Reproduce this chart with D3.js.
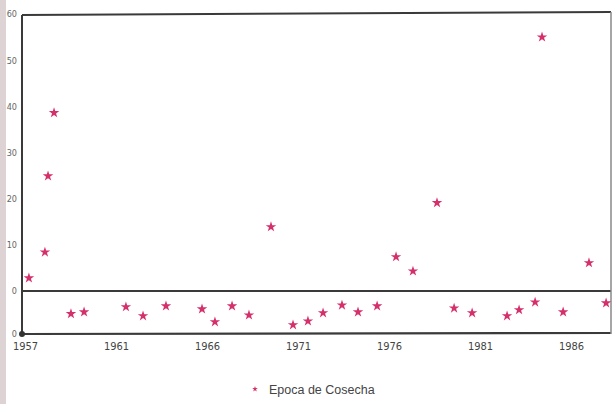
<!DOCTYPE html>
<html>
<head>
<meta charset="utf-8">
<script src="https://cdn.jsdelivr.net/npm/d3@7"></script>
<style>
  body { margin: 0; background: #fff; }
  svg { display: block; }
</style>
</head>
<body>
<div id="chart"></div>
<script>
// Harvest season values.
// Dates are fractional years; negative values fall in the lower band.
var years = [1956.38, 1957.26, 1957.43, 1957.76, 1958.69, 1959.41, 1961.71, 1962.65,
  1963.91, 1965.89, 1966.60, 1967.54, 1968.47, 1969.68, 1970.89, 1971.71,
  1972.54, 1973.58, 1974.46, 1975.51, 1976.55, 1977.48, 1978.80, 1979.74,
  1980.73, 1982.65, 1983.31, 1984.19, 1984.57, 1985.73, 1987.15, 1988.09];
var values = [2.8, 8.4, 24.9, 38.6, -5.3, -4.9, -3.7, -5.8,
  -3.5, -4.2, -7.2, -3.5, -5.6, 13.9, -7.9, -7.0,
  -5.1, -3.3, -4.9, -3.5, 7.4, 4.3, 19.1, -4.0,
  -5.1, -5.8, -4.4, -2.6, 55.0, -4.9, 6.1, -2.8];

var xTicks = [1956, 1961, 1966, 1971, 1976, 1981, 1986];
var xTickLabels = ["1957", "1961", "1966", "1971", "1976", "1981", "1986"];
var yTicks = [-10, 0, 10, 20, 30, 40, 50, 60];
var yTickLabels = ["0", "0", "10", "20", "30", "40", "50", "60"];
var legendLabel = "Epoca de Cosecha";

var width = 612, height = 404;
// plot frame edges (pixels)
var plotLeft = 22, plotRight = 611, plotTop = 14, plotMid = 291, plotBottom = 334;

var svg = d3.select("#chart").append("svg")
  .attr("width", width)
  .attr("height", height);

// scan margin on the left edge
svg.append("rect")
  .attr("x", 0).attr("y", 0)
  .attr("width", 6).attr("height", height)
  .attr("fill", "#ddd3d4");

// x scale in years, about 18.2 px per year
var x = d3.scaleLinear().domain([1956, 1988.36]).range([plotLeft, plotRight]);
// broken y scale: lower band below zero, main panel 0..60
var y = d3.scaleLinear().domain([-10, 0, 60]).range([plotBottom, plotMid, plotTop]);

// frame
var frame = "#3a3a3a";
svg.append("line").attr("x1", plotLeft).attr("x2", plotRight).attr("y1", y(60) + 1).attr("y2", y(60) - 2)
  .attr("stroke", frame).attr("stroke-width", 2);
svg.append("line").attr("x1", plotLeft).attr("x2", plotRight).attr("y1", y(0)).attr("y2", y(0))
  .attr("stroke", frame).attr("stroke-width", 2);
svg.append("line").attr("x1", plotLeft).attr("x2", plotRight).attr("y1", y(-10)).attr("y2", y(-10) - 1)
  .attr("stroke", frame).attr("stroke-width", 2.2);
svg.append("line").attr("x1", plotLeft).attr("x2", plotLeft).attr("y1", y(60) + 1).attr("y2", y(-10))
  .attr("stroke", frame).attr("stroke-width", 2);
svg.append("line").attr("x1", plotRight).attr("x2", plotRight).attr("y1", y(60) - 2).attr("y2", y(-10))
  .attr("stroke", "#888").attr("stroke-width", 1.5);
svg.append("circle").attr("cx", plotLeft).attr("cy", y(-10)).attr("r", 3).attr("fill", "#333");

// y axis labels
var yAxis = d3.axisLeft(y)
  .tickValues(yTicks)
  .tickSize(0)
  .tickPadding(6)
  .tickFormat(function(d, i) { return yTickLabels[i]; });
svg.append("g")
  .attr("transform", "translate(" + (plotLeft + 1) + ",0)")
  .call(yAxis)
  .call(function(g) { g.select(".domain").remove(); })
  .selectAll("text")
  .style("font-family", "'Liberation Sans Narrow', 'DejaVu Sans Condensed', sans-serif")
  .style("font-size", "9px")
  .attr("fill", "#666");

// x axis labels
var xAxis = d3.axisBottom(x)
  .tickValues(xTicks)
  .tickSize(0)
  .tickPadding(8)
  .tickFormat(function(d, i) { return xTickLabels[i]; });
svg.append("g")
  .attr("transform", "translate(3," + plotBottom + ")")
  .call(xAxis)
  .call(function(g) { g.select(".domain").remove(); })
  .selectAll("text")
  .style("font-family", "'Liberation Sans Narrow', 'DejaVu Sans Condensed', sans-serif")
  .style("font-size", "11px")
  .attr("fill", "#444");

// stars
var star = d3.symbol().type(d3.symbolStar).size(34);
svg.append("g")
  .selectAll("path")
  .data(years)
  .join("path")
  .attr("d", star)
  .attr("transform", function(d, i) { return "translate(" + x(d) + "," + y(values[i]) + ")"; })
  .attr("fill", "#d4306b");

// legend
svg.append("path")
  .attr("d", d3.symbol().type(d3.symbolStar).size(10))
  .attr("transform", "translate(255,389)")
  .attr("fill", "#d4306b");
svg.append("text")
  .attr("x", 269)
  .attr("y", 394)
  .style("font-family", "'Liberation Sans', Arial, sans-serif")
  .style("font-size", "12.5px")
  .attr("fill", "#444")
  .text(legendLabel);
</script>
</body>
</html>
